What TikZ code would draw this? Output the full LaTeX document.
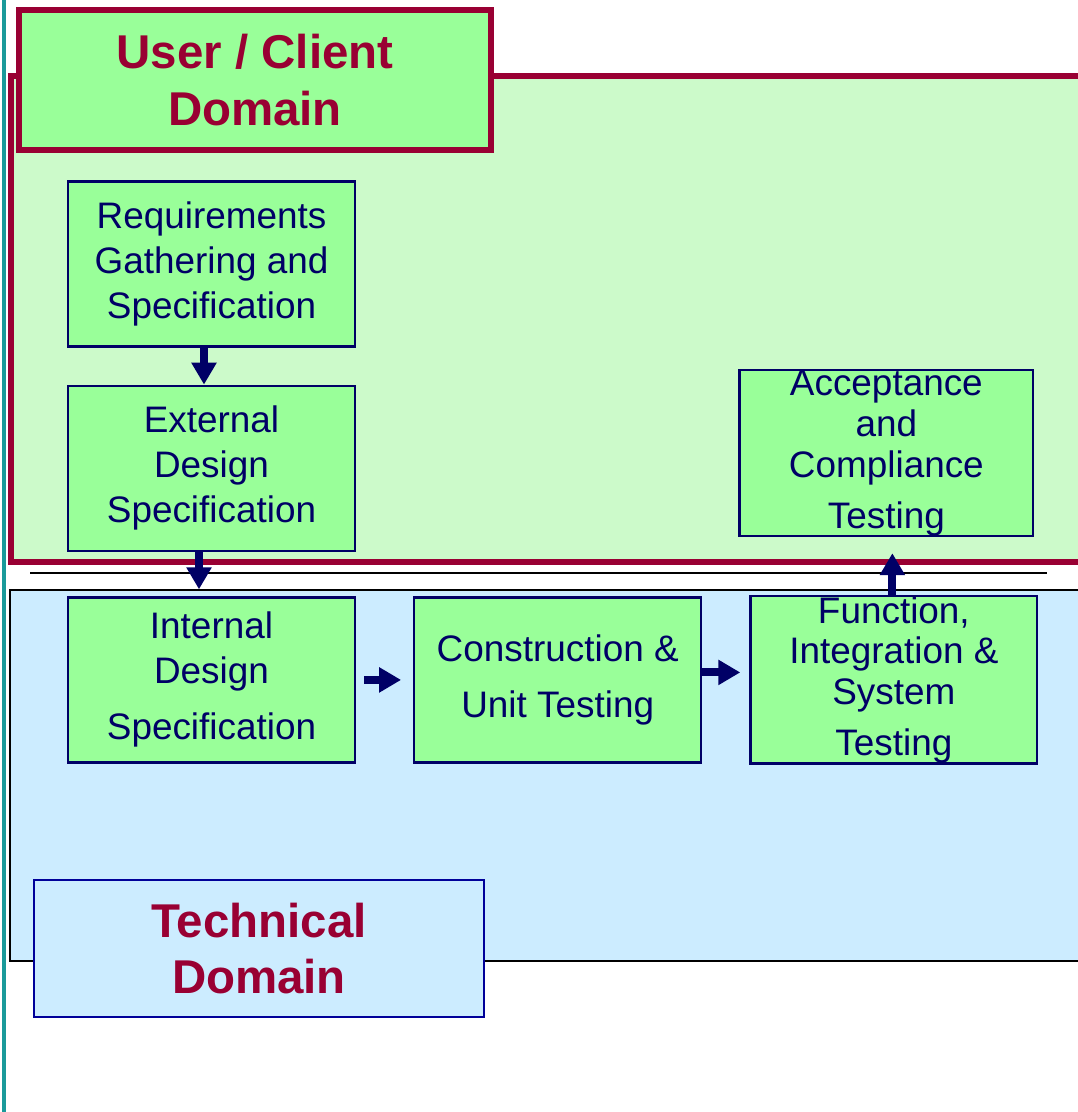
\documentclass[tikz,border=0pt]{standalone}
\usepackage{fontspec}
\setmainfont{Liberation Sans}
\usetikzlibrary{arrows.meta,positioning}

\definecolor{boxgreen}{HTML}{99FF99}
\definecolor{userarea}{HTML}{CCFACA}
\definecolor{techarea}{HTML}{CCECFF}
\definecolor{maroon}{HTML}{990033}
\definecolor{navy}{HTML}{000066}
\definecolor{techblue}{HTML}{000099}
\definecolor{sideteal}{HTML}{1A9A9A}

\begin{document}
\begin{tikzpicture}[
            x=0.02cm, y=-0.02cm,
            stage/.style={draw=navy, line width=0.045cm, fill=boxgreen, text=navy,
                          minimum width=5.74cm, minimum height=3.3cm, inner sep=0pt,
                          align=center, font=\fontsize{21}{25.6}\selectfont},
            tight/.style={font=\fontsize{21}{23.3}\selectfont},
            domainlabel/.style={align=center, text=maroon, inner sep=0pt,
                           font=\fontsize{27}{32.4}\selectfont\bfseries},
            to/.style={-{Triangle[width=0.48cm,length=0.44cm]}, line width=0.16cm, draw=navy}
  ]
  \useasboundingbox (0,0) rectangle (1078,1112);

  % the two domains
  \draw[sideteal, line width=0.07cm] (4,0) -- (4,1112);
  \draw[maroon, line width=0.12cm, fill=userarea] (11,76) rectangle (1100,562);
  \draw[line width=0.04cm] (30,573) -- (1047,573);
  \draw[line width=0.05cm, fill=techarea] (10,590) rectangle (1100,961);

  \node[draw=maroon, line width=0.12cm, fill=boxgreen, minimum width=9.46cm, minimum height=2.8cm] (user) at (255,80) {};
  \node[domainlabel] at (user) {User / Client\\Domain};
  \node[draw=techblue, line width=0.05cm, fill=techarea, minimum width=9cm, minimum height=2.74cm] (tech) at (259,948.5) {};
  \node[domainlabel] at (tech) {Technical\\Domain};

  % life cycle stages
  \node[stage] (req) at (211.5,264) {Requirements\\Gathering and\\Specification};
  \node[stage] (ext) [below=0.74cm of req] {External\\Design\\Specification};
  \node[stage] (int) [below=0.89cm of ext] {Internal\\Design\\[0.22cm]Specification};
  \node[stage] (cons) [right=1.14cm of int] {Construction \&\\[0.22cm]Unit Testing};
  \node[stage, tight] (func) [right=0.94cm of cons] {Function,\\Integration \&\\System\\[0.2cm]Testing};
  \node[stage, tight, minimum width=5.88cm] (acc) [above=1.16cm of func, xshift=-0.15cm] {Acceptance\\and\\Compliance\\[0.2cm]Testing};

  \draw[to] ([xshift=-0.15cm]req.south) -- ([xshift=-0.15cm]ext.north);
  \draw[to, shorten >=0.14cm] ([xshift=-0.25cm]ext.south) -- ([xshift=-0.25cm]int.north);
  \draw[to, shorten <=0.16cm, shorten >=0.24cm] (int.east) -- (cons.west);
  \draw[to, shorten >=0.18cm] ([yshift=0.15cm]cons.east) -- ([yshift=0.15cm]func.west);
  \draw[to, shorten >=0.32cm] ([xshift=-0.03cm]func.north) -- ([xshift=-0.03cm]func.north |- acc.south);

\end{tikzpicture}
\end{document}
